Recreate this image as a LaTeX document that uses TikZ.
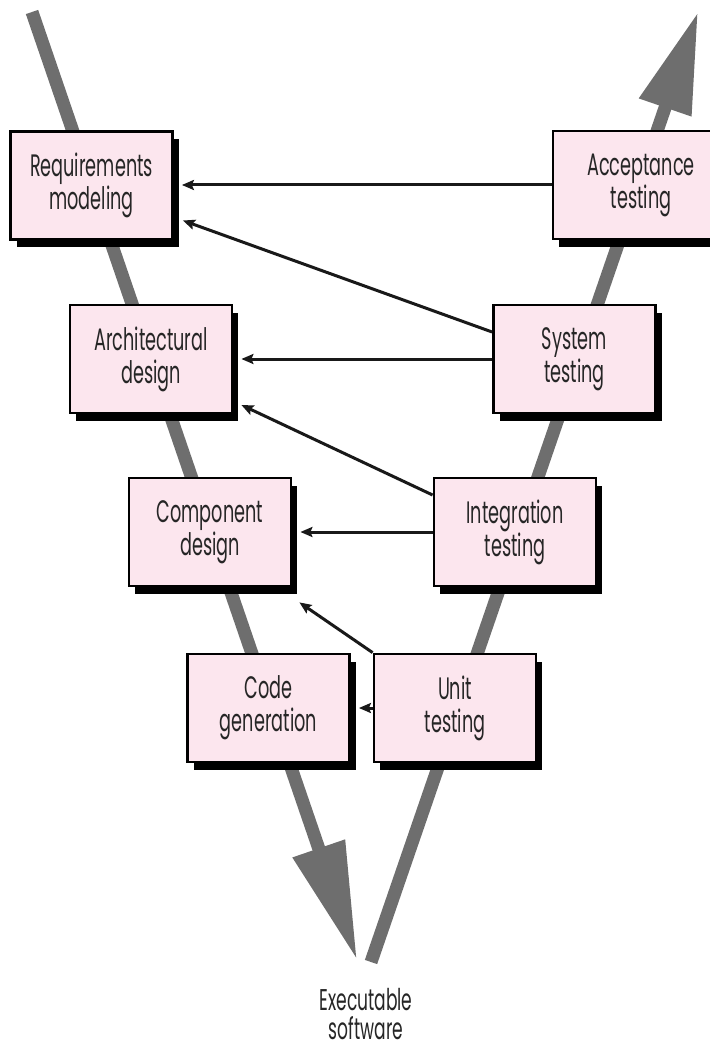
\documentclass[tikz,border=0pt]{standalone}
\usepackage{fontspec}
\newfontfamily\vfont[FakeStretch=0.57]{Poppins}
\usetikzlibrary{arrows.meta,shadows}
\definecolor{boxpink}{RGB}{252,230,238}
\definecolor{vgray}{RGB}{110,110,110}
\tikzset{
  phase/.style={draw=black, line width=2.8pt, fill=boxpink, minimum width=162pt, minimum height=108pt,
    inner sep=0pt, align=center, font=\vfont\fontsize{31}{33}\selectfont, text=black!85,
    drop shadow={shadow xshift=6pt, shadow yshift=-8pt, fill=black, opacity=1}},
  vline/.style={draw=vgray, line width=13pt, line cap=butt},
  conn/.style={draw=black!90, line width=3pt, -{Stealth[length=12pt,width=10pt,inset=2pt]}},
  lbl/.style={align=center, font=\vfont\fontsize{30}{29}\selectfont, text=black!85}
}
\begin{document}
\begin{tikzpicture}[x=1pt,y=-1pt]
\useasboundingbox (0,0) rectangle (709,1048);
% the V
\coordinate (ltop) at (32,12);
\coordinate (ltip) at (357,960);
\coordinate (rbot) at (371,962);
\coordinate (rtip) at (698,12);
\draw[vline, -{Triangle[length=118pt,width=52pt]}] (ltop) -- (ltip);
\draw[vline, -{Triangle[length=101pt,width=52pt]}] (rbot) -- (rtip);
% phases
\node[phase] (req) at (91.5,185.5) {Requirements\\modeling};
\node[phase, minimum width=176pt] (acc) at (641,185) {Acceptance\\testing};
\node[phase] (arch) at (151,359) {Architectural\\design};
\node[phase] (sys) at (574.5,359) {System\\testing};
\node[phase] (comp) at (210,532) {Component\\design};
\node[phase] (integ) at (515,532) {Integration\\testing};
\node[phase] (code) at (268.5,708) {Code\\generation};
\node[phase] (unit) at (455,708) {Unit\\testing};
\node[lbl] (exe) at (366,1014) {Executable\\software};
% connectors
\draw[conn] (acc.west) -- ([xshift=8pt]req.east |- acc.west);
\draw[conn] ([yshift=27pt]sys.west) -- ([xshift=9pt,yshift=-35pt]req.east);
\draw[conn] (sys.west) -- ([xshift=8pt]arch.east |- sys.west);
\draw[conn] ([yshift=37pt]integ.west) -- ([xshift=8pt,yshift=-46pt]arch.east);
\draw[conn] (integ.west) -- ([xshift=8pt]comp.east |- integ.west);
\draw[conn] (unit.north west) -- ([xshift=7pt,yshift=-15pt]comp.south east);
\draw[conn] (unit.west) -- ([xshift=8pt]code.east |- unit.west);
\end{tikzpicture}
\end{document}
